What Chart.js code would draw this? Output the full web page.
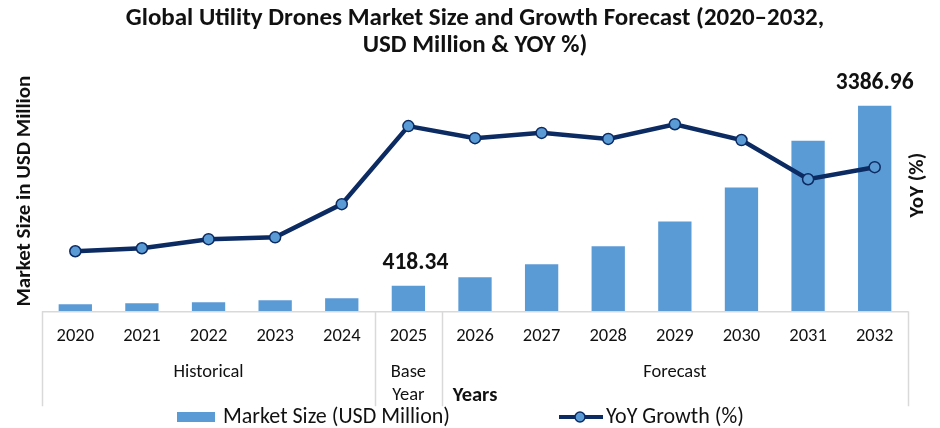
<!DOCTYPE html>
<html>
<head>
<meta charset="utf-8">
<script src="https://cdn.jsdelivr.net/npm/chart.js@4.4.1/dist/chart.umd.min.js"></script>
<style>
  html, body { margin: 0; padding: 0; background: #fff; }
  #wrap { width: 940px; height: 428px; }
</style>
</head>
<body>
<div id="wrap"><canvas id="myChart" width="940" height="428"></canvas></div>
<script>
const years = ['2020', '2021', '2022', '2023', '2024', '2025', '2026', '2027', '2028', '2029', '2030', '2031', '2032'];
const marketSize = [115, 131, 148, 181, 214, 418.34, 559, 773, 1069, 1480, 2039, 2811, 3386.96];
const yoyGrowth = [15.9, 16.7, 19.1, 19.6, 28.4, 49.1, 45.9, 47.3, 45.7, 49.6, 45.4, 35.0, 38.2];
const labelledYears = ['2025', '2032'];
// year groups under the axis: [label lines, first index, last index]
const groupNames = [['Historical'], ['Base', 'Year'], ['Forecast']];
const groupStart = [0, 5, 6];
const groupEnd = [4, 5, 12];

const font = "Carlito, Calibri, 'Open Sans', sans-serif";
const barColor = '#5b9bd5';
const lineColor = '#0c2b63';

// year groups + separators under the x axis, and both side titles
const groupsPlugin = {
  id: 'groups',
  afterDraw(chart) {
    const ctx = chart.ctx;
    const x = chart.scales.x;
    const area = chart.chartArea;
    const half = (x.getPixelForValue(1) - x.getPixelForValue(0)) / 2;
    const top = x.top;
    ctx.save();
    ctx.strokeStyle = '#d9d9d9';
    ctx.lineWidth = 1.5;
    ctx.beginPath();
    ctx.moveTo(x.left, top + 0.5);
    ctx.lineTo(x.right, top + 0.5);
    const edges = [x.getPixelForValue(0) - half];
    groupEnd.forEach(e => edges.push(x.getPixelForValue(e) + half));
    edges.forEach(px => {
      ctx.moveTo(Math.round(px) + 0.5, top);
      ctx.lineTo(Math.round(px) + 0.5, top + 95);
    });
    ctx.stroke();
    ctx.fillStyle = '#111';
    ctx.font = '18.5px ' + font;
    ctx.textAlign = 'center';
    ctx.textBaseline = 'middle';
    groupNames.forEach((lines, g) => {
      const cx = (x.getPixelForValue(groupStart[g]) + x.getPixelForValue(groupEnd[g])) / 2;
      lines.forEach((t, i) => ctx.fillText(t, cx, top + 61 + i * 23));
    });
    // side titles, both reading upwards
    const midY = (area.top + area.bottom) / 2;
    ctx.font = 'bold 21px ' + font;
    ctx.save();
    ctx.translate(area.left - 17, midY - 7);
    ctx.rotate(-Math.PI / 2);
    ctx.fillText('Market Size in USD Million', 0, 0);
    ctx.restore();
    ctx.translate(area.right + 10, midY - 13);
    ctx.rotate(-Math.PI / 2);
    ctx.fillText('YoY (%)', 0, 0);
    ctx.restore();
  }
};

// value labels over selected bars (the 2025 one sits a bit to the right)
const labelShift = { '2025': 7 };
const valuePlugin = {
  id: 'values',
  afterDatasetsDraw(chart) {
    const ctx = chart.ctx;
    const meta = chart.getDatasetMeta(1);
    ctx.save();
    ctx.fillStyle = '#111';
    ctx.font = 'bold 23.5px ' + font;
    ctx.textAlign = 'center';
    ctx.textBaseline = 'middle';
    years.forEach((yr, i) => {
      if (labelledYears.includes(yr)) {
        const bar = meta.data[i];
        ctx.fillText(marketSize[i].toFixed(2), bar.x + (labelShift[yr] || 0), bar.y - 23);
      }
    });
    ctx.restore();
  }
};

// legend at the bottom
const legendPlugin = {
  id: 'bottomLegend',
  afterDraw(chart) {
    const ctx = chart.ctx;
    const y = chart.height - 11;
    const cx = chart.width / 2;
    ctx.save();
    ctx.font = '22px ' + font;
    ctx.textBaseline = 'middle';
    ctx.textAlign = 'left';
    // bar item
    ctx.fillStyle = barColor;
    ctx.fillRect(cx - 293, y - 5, 38, 10);
    ctx.fillStyle = '#111';
    ctx.fillText('Market Size (USD Million)', cx - 247, y);
    // line item
    ctx.strokeStyle = lineColor;
    ctx.lineWidth = 4;
    ctx.beginPath();
    ctx.moveTo(cx + 89, y);
    ctx.lineTo(cx + 133, y);
    ctx.stroke();
    ctx.beginPath();
    ctx.arc(cx + 110, y, 5, 0, Math.PI * 2);
    ctx.fillStyle = barColor;
    ctx.fill();
    ctx.lineWidth = 1.5;
    ctx.stroke();
    ctx.fillStyle = '#111';
    ctx.fillText('YoY Growth (%)', cx + 136, y);
    ctx.restore();
  }
};

new Chart(document.querySelector('#myChart'), {
  type: 'bar',
  data: {
    labels: years,
    datasets: [
      {
        type: 'line',
        label: 'YoY Growth (%)',
        data: yoyGrowth,
        yAxisID: 'y2',
        borderColor: lineColor,
        borderWidth: 4.5,
        pointRadius: 5.5,
        pointBackgroundColor: barColor,
        pointBorderColor: lineColor,
        pointBorderWidth: 1.5,
        tension: 0,
        order: 0
      },
      {
        label: 'Market Size (USD Million)',
        data: marketSize,
        yAxisID: 'y',
        backgroundColor: barColor,
        barPercentage: 0.5,
        categoryPercentage: 1,
        order: 1
      }
    ]
  },
  options: {
    responsive: false,
    animation: false,
    layout: { padding: { left: 42, right: 32, top: 5, bottom: 20 } },
    plugins: {
      legend: { display: false },
      tooltip: { enabled: false },
      title: {
        display: true,
        text: ['Global Utility Drones Market Size and Growth Forecast (2020\u20132032,', 'USD Million & YOY %)'],
        color: '#111',
        font: { family: font, size: 25, weight: 'bold', lineHeight: 1.08 },
        padding: { top: 0, bottom: 26 }
      }
    },
    scales: {
      x: {
        grid: { display: false, drawTicks: false },
        border: { display: false },
        ticks: { color: '#111', padding: 14, font: { family: font, size: 18.5 }, maxRotation: 0, autoSkip: false },
        title: { display: true, text: 'Years', color: '#111', font: { family: font, size: 20.5, weight: 'bold', lineHeight: 1.2 }, padding: { top: 22, bottom: 0 } }
      },
      y: {
        position: 'left',
        min: 0,
        max: 3730,
        display: false
      },
      y2: {
        position: 'right',
        min: 0,
        max: 60,
        display: false
      }
    }
  },
  plugins: [groupsPlugin, valuePlugin, legendPlugin]
});
</script>
</body>
</html>
